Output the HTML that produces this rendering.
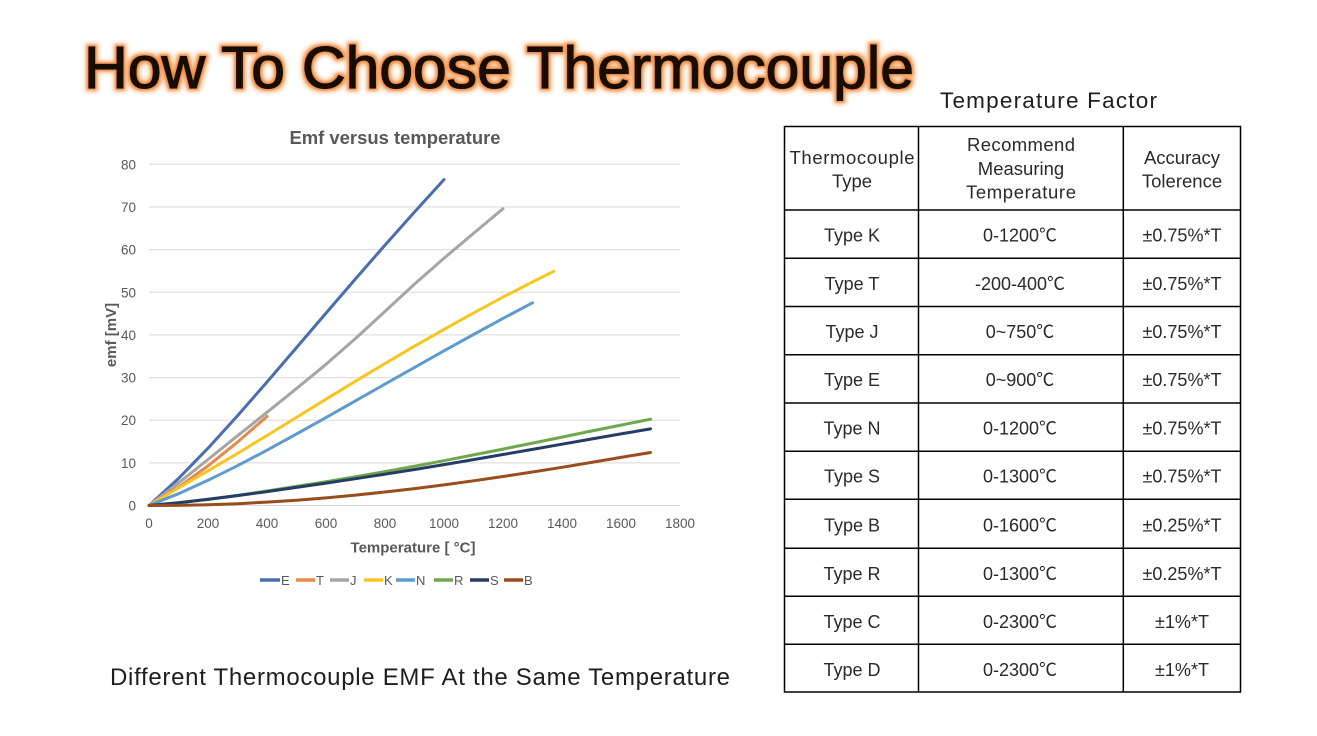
<!DOCTYPE html>
<html><head><meta charset="utf-8"><style>
html,body{margin:0;padding:0;background:#fff;}
svg{display:block;}
text{font-family:"Liberation Sans","Noto Sans CJK SC",sans-serif;}
</style></head><body>
<svg width="1317" height="736" viewBox="0 0 1317 736" xmlns="http://www.w3.org/2000/svg">
<defs>
<filter id="glow" x="-5%" y="-40%" width="110%" height="180%">
<feMorphology in="SourceAlpha" operator="dilate" radius="1.5" result="d"/>
<feGaussianBlur in="d" stdDeviation="1.2" result="b1"/>
<feFlood flood-color="#ee8a3c"/>
<feComposite in2="b1" operator="in" result="g1"/>
<feMorphology in="SourceAlpha" operator="dilate" radius="3" result="d2"/>
<feGaussianBlur in="d2" stdDeviation="2.5" result="b2"/>
<feFlood flood-color="#f8c08e"/>
<feComposite in2="b2" operator="in" result="g2"/>
<feMerge><feMergeNode in="g2"/><feMergeNode in="g1"/><feMergeNode in="SourceGraphic"/></feMerge>
</filter>
</defs>
<rect width="1317" height="736" fill="#fff"/>

<!-- Title -->
<text x="84" y="88" font-size="59" fill="#140800" stroke="#1e0a00" stroke-width="1.3" textLength="830" lengthAdjust="spacingAndGlyphs" filter="url(#glow)">How To Choose Thermocouple</text>

<!-- Chart -->
<text x="395" y="144" font-size="18" font-weight="bold" fill="#595959" text-anchor="middle" textLength="211" lengthAdjust="spacingAndGlyphs">Emf versus temperature</text>

<g stroke="#d9d9d9" stroke-width="1">
<line x1="149" y1="164.3" x2="680" y2="164.3"/>
<line x1="149" y1="207" x2="680" y2="207"/>
<line x1="149" y1="249.6" x2="680" y2="249.6"/>
<line x1="149" y1="292.3" x2="680" y2="292.3"/>
<line x1="149" y1="334.9" x2="680" y2="334.9"/>
<line x1="149" y1="377.6" x2="680" y2="377.6"/>
<line x1="149" y1="420.2" x2="680" y2="420.2"/>
<line x1="149" y1="462.9" x2="680" y2="462.9"/>
<line x1="149" y1="505.5" x2="680" y2="505.5"/>
</g>

<g font-size="13.5" fill="#595959" text-anchor="end">
<text x="136" y="169.3">80</text>
<text x="136" y="212">70</text>
<text x="136" y="254.6">60</text>
<text x="136" y="297.3">50</text>
<text x="136" y="339.9">40</text>
<text x="136" y="382.6">30</text>
<text x="136" y="425.2">20</text>
<text x="136" y="467.9">10</text>
<text x="136" y="510.5">0</text>
</g>
<g font-size="13.5" fill="#595959" text-anchor="middle">
<text x="149" y="528">0</text>
<text x="208" y="528">200</text>
<text x="267" y="528">400</text>
<text x="326" y="528">600</text>
<text x="385" y="528">800</text>
<text x="444" y="528">1000</text>
<text x="503" y="528">1200</text>
<text x="562" y="528">1400</text>
<text x="621" y="528">1600</text>
<text x="680" y="528">1800</text>
</g>
<text x="413" y="552.5" font-size="15" font-weight="bold" fill="#595959" text-anchor="middle">Temperature [ °C]</text>
<text transform="translate(116,335) rotate(-90)" font-size="15" font-weight="bold" fill="#595959" text-anchor="middle">emf [mV]</text>

<g fill="none" stroke-width="3" stroke-linejoin="round" stroke-linecap="round">
<polyline stroke="#4a6db0" points="149,505.5 178.5,478.5 208,448.2 237.5,415.8 267,382.0 296.5,347.6 326,313.1 355.5,278.9 385,245.1 414.5,212.0 444,179.6"/>
<polyline stroke="#a5a5a5" points="149,505.5 178.5,483.0 208,459.5 237.5,435.8 267,412.3 296.5,388.6 326,364.3 355.5,338.5 385,311.4 414.5,284.1 444,258.2 473.5,233.4 503,208.7"/>
<polyline stroke="#e58a4a" points="149,505.5 178.5,487.2 208,465.9 237.5,442.1 267,416.5"/>
<polyline stroke="#f7c520" points="149,505.5 178.5,488.0 208,470.8 237.5,453.4 267,435.5 296.5,417.4 326,399.2 355.5,381.2 385,363.5 414.5,346.2 444,329.4 473.5,313.0 503,297.1 532.5,281.9 553.7,271.3"/>
<polyline stroke="#5f9bcf" points="149,505.5 178.5,493.7 208,480.3 237.5,465.7 267,450.2 296.5,434.0 326,417.6 355.5,400.8 385,384.1 414.5,367.4 444,350.8 473.5,334.5 503,318.4 532.5,302.8"/>
<polyline stroke="#6fa84c" points="149,505.5 178.5,502.7 208,499.2 237.5,495.3 267,491.0 296.5,486.4 326,481.7 355.5,476.7 385,471.6 414.5,466.2 444,460.7 473.5,454.9 503,449.1 532.5,443.1 562,437.1 591.5,431.0 621,425.1 650.5,419.2"/>
<polyline stroke="#243c66" points="149,505.5 178.5,502.7 208,499.4 237.5,495.6 267,491.6 296.5,487.4 326,483.1 355.5,478.7 385,474.2 414.5,469.5 444,464.6 473.5,459.6 503,454.5 532.5,449.4 562,444.2 591.5,439.0 621,433.9 650.5,428.9"/>
<polyline stroke="#9a4d1c" points="149,505.5 178.5,505.4 208,504.7 237.5,503.7 267,502.1 296.5,500.2 326,497.9 355.5,495.1 385,492.0 414.5,488.6 444,484.9 473.5,480.8 503,476.5 532.5,472.0 562,467.3 591.5,462.4 621,457.4 650.5,452.5"/>
</g>

<!-- Legend -->
<g stroke-width="3.5">
<line x1="260" y1="580" x2="280" y2="580" stroke="#4a6db0"/>
<line x1="296" y1="580" x2="315" y2="580" stroke="#e58a4a"/>
<line x1="330" y1="580" x2="349" y2="580" stroke="#a5a5a5"/>
<line x1="364" y1="580" x2="383" y2="580" stroke="#f7c520"/>
<line x1="396" y1="580" x2="415" y2="580" stroke="#5f9bcf"/>
<line x1="434" y1="580" x2="453" y2="580" stroke="#6fa84c"/>
<line x1="470" y1="580" x2="489" y2="580" stroke="#243c66"/>
<line x1="504" y1="580" x2="523" y2="580" stroke="#9a4d1c"/>
</g>
<g font-size="13" fill="#595959">
<text x="281" y="585">E</text>
<text x="316" y="585">T</text>
<text x="350" y="585">J</text>
<text x="384" y="585">K</text>
<text x="416" y="585">N</text>
<text x="454" y="585">R</text>
<text x="490" y="585">S</text>
<text x="524" y="585">B</text>
</g>

<text x="110" y="685" font-size="24" fill="#1e1e1e" textLength="620" lengthAdjust="spacing">Different Thermocouple EMF At the Same Temperature</text>

<!-- Table -->
<text x="940" y="108" font-size="22.5" fill="#1e1e1e" textLength="217" lengthAdjust="spacing">Temperature Factor</text>

<g stroke="#000" stroke-width="1.5" fill="none">
<rect x="784.5" y="126.5" width="456" height="565.5"/>
<line x1="918.5" y1="126.5" x2="918.5" y2="692"/>
<line x1="1123.3" y1="126.5" x2="1123.3" y2="692"/>
<line x1="784.5" y1="210" x2="1240.5" y2="210"/>
<line x1="784.5" y1="258.3" x2="1240.5" y2="258.3"/>
<line x1="784.5" y1="306.5" x2="1240.5" y2="306.5"/>
<line x1="784.5" y1="354.7" x2="1240.5" y2="354.7"/>
<line x1="784.5" y1="403" x2="1240.5" y2="403"/>
<line x1="784.5" y1="451.2" x2="1240.5" y2="451.2"/>
<line x1="784.5" y1="499.3" x2="1240.5" y2="499.3"/>
<line x1="784.5" y1="548.3" x2="1240.5" y2="548.3"/>
<line x1="784.5" y1="596.3" x2="1240.5" y2="596.3"/>
<line x1="784.5" y1="644.3" x2="1240.5" y2="644.3"/>
</g>

<g font-size="18.5" fill="#2a2a2a" text-anchor="middle">
<text x="852" y="164" textLength="125" lengthAdjust="spacing">Thermocouple</text>
<text x="852" y="187.5">Type</text>
<text x="1021" y="151" textLength="108" lengthAdjust="spacing">Recommend</text>
<text x="1021" y="175">Measuring</text>
<text x="1021" y="198.5" textLength="110" lengthAdjust="spacing">Temperature</text>
<text x="1182" y="164">Accuracy</text>
<text x="1182" y="187.5">Tolerence</text>
</g>

<g font-size="18" fill="#2a2a2a" text-anchor="middle">
<text x="852" y="241.5">Type K</text><text x="1020" y="241.5">0-1200℃</text><text x="1182" y="241.5">±0.75%*T</text>
<text x="852" y="289.8">Type T</text><text x="1020" y="289.8">-200-400℃</text><text x="1182" y="289.8">±0.75%*T</text>
<text x="852" y="338">Type J</text><text x="1020" y="338">0~750℃</text><text x="1182" y="338">±0.75%*T</text>
<text x="852" y="386.2">Type E</text><text x="1020" y="386.2">0~900℃</text><text x="1182" y="386.2">±0.75%*T</text>
<text x="852" y="434.5">Type N</text><text x="1020" y="434.5">0-1200℃</text><text x="1182" y="434.5">±0.75%*T</text>
<text x="852" y="482.7">Type S</text><text x="1020" y="482.7">0-1300℃</text><text x="1182" y="482.7">±0.75%*T</text>
<text x="852" y="531.3">Type B</text><text x="1020" y="531.3">0-1600℃</text><text x="1182" y="531.3">±0.25%*T</text>
<text x="852" y="579.8">Type R</text><text x="1020" y="579.8">0-1300℃</text><text x="1182" y="579.8">±0.25%*T</text>
<text x="852" y="627.8">Type C</text><text x="1020" y="627.8">0-2300℃</text><text x="1182" y="627.8">±1%*T</text>
<text x="852" y="675.8">Type D</text><text x="1020" y="675.8">0-2300℃</text><text x="1182" y="675.8">±1%*T</text>
</g>
</svg>
</body></html>
